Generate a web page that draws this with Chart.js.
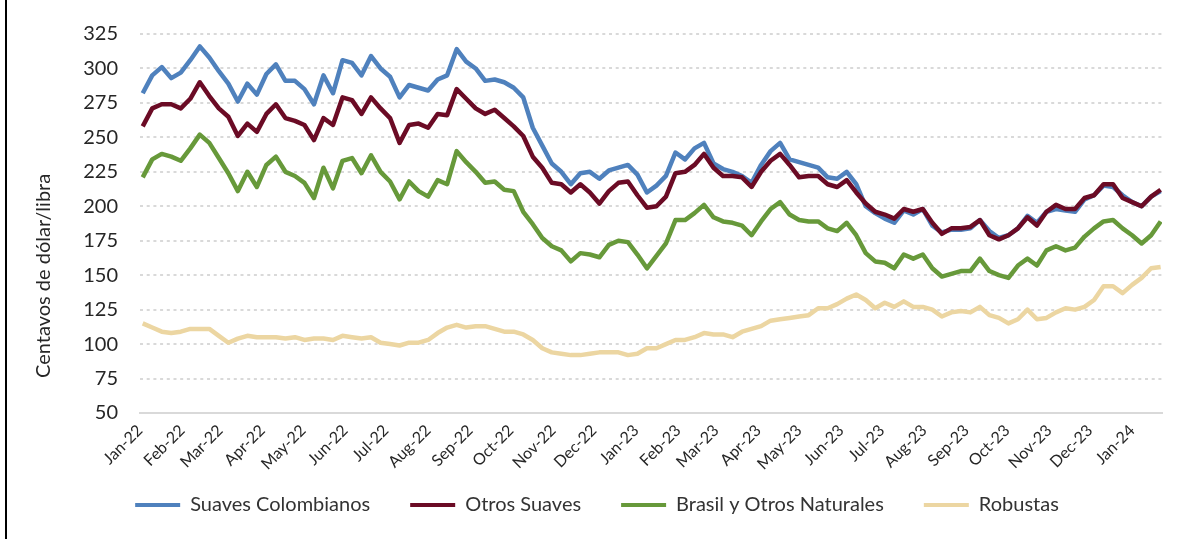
<!DOCTYPE html>
<html>
<head>
<meta charset="utf-8">
<script src="https://cdn.jsdelivr.net/npm/chart.js@4.4.0/dist/chart.umd.min.js"></script>
<style>
  html, body { margin: 0; padding: 0; background: #fff; }
  #wrap { position: relative; width: 1199px; height: 539px; }
  #wrap:before { content: ''; position: absolute; left: 5px; top: 0; width: 2px; height: 539px; background: #000; }
</style>
</head>
<body>
<div id="wrap"><canvas id="chart" width="1199" height="539"></canvas></div>
<script>
'use strict'

// weekly readings, first week starting 2022-01-03
const firstDay = 2;
const stepDays = 7;

const tickLabels = ['Jan-22', 'Feb-22', 'Mar-22', 'Apr-22', 'May-22', 'Jun-22', 'Jul-22', 'Aug-22', 'Sep-22', 'Oct-22', 'Nov-22', 'Dec-22',
  'Jan-23', 'Feb-23', 'Mar-23', 'Apr-23', 'May-23', 'Jun-23', 'Jul-23', 'Aug-23', 'Sep-23', 'Oct-23', 'Nov-23', 'Dec-23', 'Jan-24'];

const suavesColombianos = [282, 295, 301, 293, 297, 306, 316, 308, 298, 289, 276, 289, 281, 296, 303, 291, 291, 285, 274, 295,
  282, 306, 304, 295, 309, 300, 294, 279, 288, 286, 284, 292, 295, 314, 305, 300, 291, 292, 290, 286,
  279, 257, 244, 231, 225, 216, 224, 225, 220, 226, 228, 230, 223, 210, 215, 222, 239, 234, 242, 246,
  231, 227, 225, 222, 217, 230, 240, 246, 234, 232, 230, 228, 221, 220, 225, 216, 200, 195, 191, 188,
  197, 194, 198, 186, 181, 183, 183, 184, 190, 182, 177, 179, 184, 193, 188, 196, 198, 197, 196, 205,
  208, 215, 214, 208, 203, 200, 207, 211];

const otrosSuaves = [258, 271, 274, 274, 271, 278, 290, 280, 271, 265, 251, 260, 254, 267, 274, 264, 262, 259, 248, 264,
  259, 279, 277, 267, 279, 271, 264, 246, 259, 260, 257, 267, 266, 285, 278, 271, 267, 270, 264, 258,
  251, 236, 228, 217, 216, 210, 216, 210, 202, 211, 217, 218, 208, 199, 200, 207, 224, 225, 230, 238,
  228, 222, 222, 221, 214, 225, 233, 238, 230, 221, 222, 222, 216, 214, 219, 210, 202, 196, 194, 191,
  198, 196, 198, 188, 180, 184, 184, 185, 190, 179, 176, 179, 184, 192, 186, 196, 201, 198, 198, 206,
  208, 216, 216, 206, 203, 200, 207, 212];

const brasilOtros = [221, 234, 238, 236, 233, 242, 252, 246, 235, 224, 211, 225, 214, 230, 236, 225, 222, 217, 206, 228,
  213, 233, 235, 224, 237, 225, 218, 205, 218, 211, 207, 219, 216, 240, 232, 225, 217, 218, 212, 211,
  196, 187, 177, 171, 168, 160, 166, 165, 163, 172, 175, 174, 165, 155, 164, 173, 190, 190, 195, 201,
  192, 189, 188, 186, 179, 189, 198, 203, 194, 190, 189, 189, 184, 182, 188, 179, 166, 160, 159, 155,
  165, 162, 165, 155, 149, 151, 153, 153, 162, 153, 150, 148, 157, 162, 157, 168, 171, 168, 170, 178,
  184, 189, 190, 184, 179, 173, 179, 189];

const robustas = [115, 112, 109, 108, 109, 111, 111, 111, 106, 101, 104, 106, 105, 105, 105, 104, 105, 103, 104, 104,
  103, 106, 105, 104, 105, 101, 100, 99, 101, 101, 103, 108, 112, 114, 112, 113, 113, 111, 109, 109,
  107, 103, 97, 94, 93, 92, 92, 93, 94, 94, 94, 92, 93, 97, 97, 100, 103, 103, 105, 108,
  107, 107, 105, 109, 111, 113, 117, 118, 119, 120, 121, 126, 126, 129, 133, 136, 132, 126, 130, 127,
  131, 127, 127, 125, 120, 123, 124, 123, 127, 121, 119, 115, 118, 125, 118, 119, 123, 126, 125, 127,
  132, 142, 142, 137, 143, 148, 155, 156];

const yTitle = 'Centavos de dólar/libra';

const dayMs = 24 * 3600 * 1000;
const start = Date.UTC(2022, 0, 1);
const tickDays = tickLabels.map((l, i) => Math.round((Date.UTC(2022, i, 1) - start) / dayMs));

function toPoints(values) {
  return values.map((v, i) => ({ x: firstDay + i * stepDays, y: v }));
}

function series(label, values, color, order) {
  return {
    label: label,
    data: toPoints(values),
    borderColor: color,
    backgroundColor: color,
    borderWidth: 4.5,
    pointRadius: 0,
    tension: 0,
    borderJoinStyle: 'round',
    fill: false,
    order: order
  };
}

// rotated axis title, sits a bit below the middle like the original
const yTitlePlugin = {
  id: 'yTitle',
  afterDraw(chart) {
    const ctx = chart.ctx;
    ctx.save();
    ctx.translate(50, chart.chartArea.bottom - 35);
    ctx.rotate(-Math.PI / 2);
    ctx.font = '20px Lato';
    ctx.fillStyle = '#262626';
    ctx.textAlign = 'left';
    ctx.textBaseline = 'alphabetic';
    ctx.fillText(yTitle, 0, 0);
    ctx.restore();
  }
};

// pull the legend row up so it sits closer to the rotated month labels
const legendShift = {
  id: 'legendShift',
  afterLayout(chart) {
    chart.legend.top -= 22;
    chart.legend.bottom -= 22;
  }
};

const ctx = document.getElementById('chart').getContext('2d');
const myChart = new Chart(ctx, {
  type: 'line',
  data: {
    datasets: [
      series('Suaves Colombianos', suavesColombianos, '#4f81bd', 4),
      series('Otros Suaves', otrosSuaves, '#6b0b25', 3),
      series('Brasil y Otros Naturales', brasilOtros, '#67993a', 2),
      series('Robustas', robustas, '#ecd6a2', 1)
    ]
  },
  options: {
    responsive: false,
    animation: false,
    layout: { padding: { left: 32, right: 37, top: 32, bottom: 0 } },
    plugins: {
      tooltip: { enabled: false },
      legend: {
        position: 'bottom',
        maxHeight: 62,
        labels: {
          boxWidth: 45,
          boxHeight: 4,
          padding: 40,
          color: '#333',
          font: { family: 'Lato', size: 20 },
          sort: (a, b) => a.datasetIndex - b.datasetIndex,
          generateLabels(chart) {
            const items = Chart.defaults.plugins.legend.labels.generateLabels(chart);
            items.forEach(it => { it.lineWidth = 0; it.fillStyle = it.strokeStyle; });
            return items;
          }
        }
      }
    },
    scales: {
      x: {
        type: 'linear',
        min: 0,
        max: 752,
        afterBuildTicks(scale) { scale.ticks = tickDays.map(d => ({ value: d })); },
        afterFit(scale) { scale.height = 64; },
        ticks: {
          autoSkip: false,
          minRotation: 45,
          maxRotation: 45,
          padding: 8,
          color: '#262626',
          font: { family: 'Lato', size: 16 },
          callback: (v) => tickLabels[tickDays.indexOf(v)]
        },
        grid: { display: false, drawTicks: false },
        border: { display: true, color: '#d9d9d9', width: 2 }
      },
      y: {
        min: 50,
        max: 325,
        afterFit(scale) { scale.width = 108; },
        ticks: {
          stepSize: 25,
          padding: 22,
          color: '#262626',
          font: { family: 'Lato', size: 20 }
        },
        grid: { color: '#d9d9d9', lineWidth: 2, drawTicks: false },
        border: { display: false, dash: [3, 3.7] }
      }
    }
  },
  plugins: [yTitlePlugin, legendShift]
});
</script>
</body>
</html>
